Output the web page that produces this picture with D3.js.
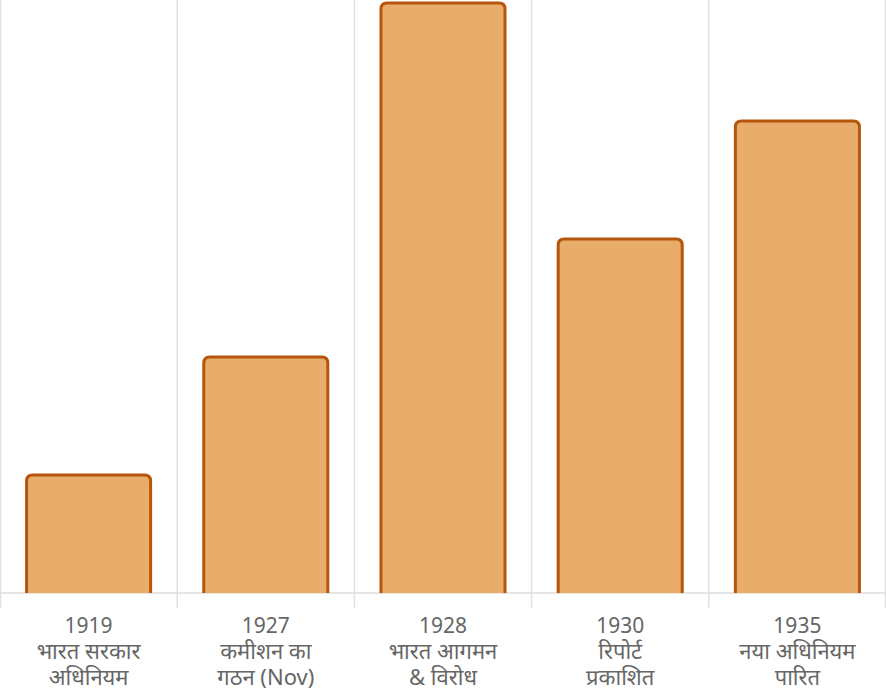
<!DOCTYPE html>
<html>
<head>
<meta charset="utf-8">
<script src="https://cdn.jsdelivr.net/npm/d3@7"></script>
<style>
  body { margin: 0; background: #fff; }
  text { font-family: "Noto Sans", "Open Sans", sans-serif; fill: #666; }
</style>
</head>
<body>
<div id="chart"></div>
<script>
var years = ["1919", "1927", "1928", "1930", "1935"];
var labelLine1 = ["भारत सरकार", "कमीशन का", "भारत आगमन", "रिपोर्ट", "नया अधिनियम"];
var labelLine2 = ["अधिनियम", "गठन (Nov)", "& विरोध", "प्रकाशित", "पारित"];
var values = [1, 2, 5, 3, 4];

var svgWidth = 886;
var svgHeight = 700;
var baseY = 593;

var svg = d3.select("#chart")
  .append("svg")
  .attr("width", svgWidth)
  .attr("height", svgHeight);

// band scale: inner 0.3, outer 0.15 gives bars centred in equal cells
var x = d3.scaleBand()
  .domain(years)
  .range([0, svgWidth])
  .paddingInner(0.3)
  .paddingOuter(0.15);

var step = x.step();

var y = d3.scaleLinear()
  .domain([0, d3.max(values)])
  .range([baseY, 3]);

// vertical cell lines
var edges = years.map(function(d) { return x(d) - step * 0.15; });
edges.push(svgWidth);
svg.append("g").selectAll("line")
  .data(edges)
  .enter()
  .append("line")
  .attr("x1", d => Math.min(Math.max(d, 0.5), svgWidth - 0.5))
  .attr("x2", d => Math.min(Math.max(d, 0.5), svgWidth - 0.5))
  .attr("y1", 0)
  .attr("y2", 608)
  .attr("stroke", "#e0e0e0")
  .attr("stroke-width", 1.5);

// baseline
svg.append("line")
  .attr("x1", 0)
  .attr("x2", svgWidth)
  .attr("y1", baseY)
  .attr("y2", baseY)
  .attr("stroke", "#dcdcdc")
  .attr("stroke-width", 1.5);

// bars with rounded top corners
var r = 6;
function barPath(d, i) {
  var x0 = x(years[i]), x1 = x0 + x.bandwidth();
  var top = y(d), bot = y(0);
  return "M" + x0 + "," + bot +
    "L" + x0 + "," + (top + r) +
    "Q" + x0 + "," + top + " " + (x0 + r) + "," + top +
    "L" + (x1 - r) + "," + top +
    "Q" + x1 + "," + top + " " + x1 + "," + (top + r) +
    "L" + x1 + "," + bot;
}

svg.append("g").selectAll("path")
  .data(values)
  .enter()
  .append("path")
  .attr("d", barPath)
  .attr("fill", "#e8ac6b")
  .attr("stroke", "#b5560c")
  .attr("stroke-width", 3)
  .attr("stroke-linejoin", "round");

// category labels
var labels = svg.append("g").selectAll("text")
  .data(years)
  .enter()
  .append("text")
  .attr("text-anchor", "middle")
  .attr("x", d => x(d) + x.bandwidth() / 2);

labels.append("tspan")
  .attr("x", d => x(d) + x.bandwidth() / 2)
  .attr("y", 633)
  .style("font-size", "21px")
  .text(d => d);

labels.append("tspan")
  .attr("x", d => x(d) + x.bandwidth() / 2)
  .attr("y", 659)
  .style("font-size", "22px")
  .text((d, i) => labelLine1[i]);

labels.append("tspan")
  .attr("x", d => x(d) + x.bandwidth() / 2)
  .attr("y", 685)
  .style("font-size", "22px")
  .text((d, i) => labelLine2[i]);
</script>
</body>
</html>
